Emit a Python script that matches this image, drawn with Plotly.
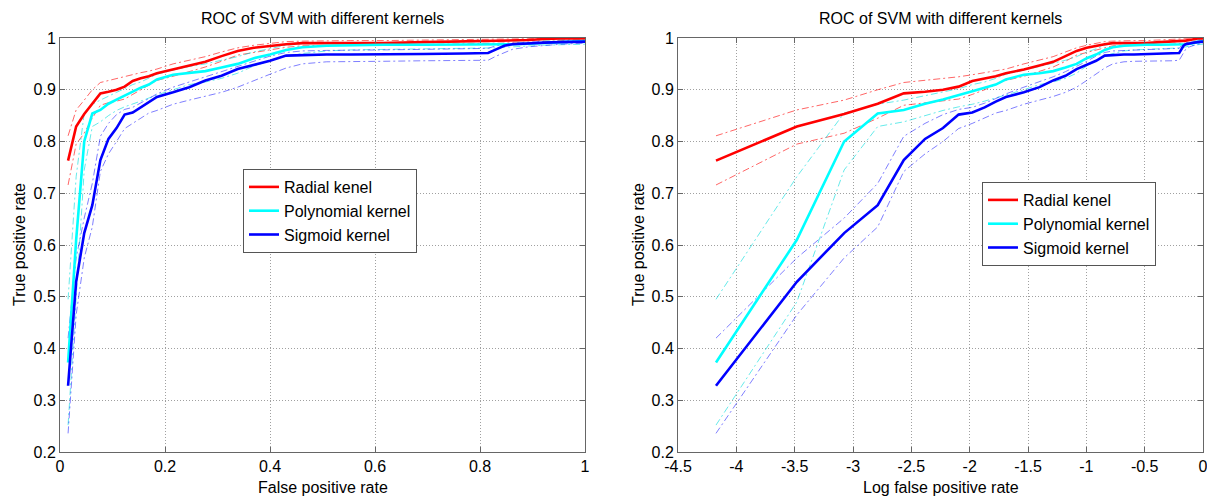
import numpy as np
import plotly.graph_objects as go

# ---- data ----
N_NEG = 65
fp_counts = [1, 2, 3, 4, 5, 6, 7, 8, 9, 10, 11, 12, 14, 16, 18, 20, 22, 24, 26, 28, 30,
             33, 36, 40, 45, 50, 53, 54, 55, 56, 58, 60, 62, 65]

radial_tpr = [0.763, 0.829, 0.853, 0.873, 0.893, 0.896, 0.900, 0.906, 0.917, 0.922, 0.926, 0.932,
              0.939, 0.947, 0.954, 0.965, 0.975, 0.981, 0.985, 0.988, 0.990, 0.990, 0.990, 0.990,
              0.992, 0.993, 0.994, 0.994, 0.995, 0.995, 0.996, 0.998, 0.999, 0.999]
radial_upper = [0.811, 0.861, 0.880, 0.900, 0.914, 0.918, 0.921, 0.925, 0.929, 0.933, 0.936, 0.940,
                0.950, 0.957, 0.964, 0.973, 0.981, 0.986, 0.990, 0.993, 0.994, 0.995, 0.995, 0.995,
                0.996, 0.997, 0.998, 0.998, 0.998, 0.998, 0.999, 1.0, 1.0, 1.0]
radial_lower = [0.716, 0.795, 0.816, 0.845, 0.870, 0.875, 0.878, 0.882, 0.891, 0.900, 0.910, 0.918,
                0.926, 0.935, 0.944, 0.955, 0.967, 0.972, 0.977, 0.982, 0.985, 0.986, 0.986, 0.986,
                0.987, 0.988, 0.990, 0.990, 0.990, 0.990, 0.991, 0.993, 0.995, 0.996]

poly_tpr = [0.373, 0.610, 0.800, 0.854, 0.861, 0.873, 0.881, 0.889, 0.897, 0.904, 0.910, 0.920,
            0.929, 0.932, 0.936, 0.943, 0.950, 0.961, 0.968, 0.977, 0.982, 0.985, 0.986, 0.987,
            0.987, 0.987, 0.987, 0.987, 0.988, 0.988, 0.989, 0.990, 0.992, 0.994]
poly_upper = [0.495, 0.732, 0.855, 0.872, 0.880, 0.888, 0.895, 0.902, 0.910, 0.915, 0.922, 0.930,
              0.938, 0.945, 0.950, 0.957, 0.964, 0.973, 0.979, 0.986, 0.989, 0.990, 0.991, 0.991,
              0.992, 0.992, 0.992, 0.993, 0.993, 0.994, 0.995, 0.996, 0.997, 0.998]
poly_lower = [0.252, 0.490, 0.745, 0.829, 0.838, 0.850, 0.860, 0.867, 0.872, 0.878, 0.884, 0.890,
              0.900, 0.910, 0.915, 0.922, 0.932, 0.946, 0.956, 0.965, 0.970, 0.975, 0.977, 0.978,
              0.979, 0.980, 0.980, 0.981, 0.982, 0.983, 0.985, 0.986, 0.987, 0.988]

sigmoid_tpr = [0.328, 0.529, 0.623, 0.677, 0.764, 0.805, 0.826, 0.852, 0.856, 0.866, 0.877, 0.886,
               0.895, 0.905, 0.918, 0.927, 0.940, 0.948, 0.956, 0.966, 0.967, 0.968, 0.968, 0.969,
               0.969, 0.970, 0.971, 0.978, 0.985, 0.988, 0.990, 0.991, 0.992, 0.993]
sigmoid_upper = [0.420, 0.575, 0.652, 0.719, 0.810, 0.835, 0.852, 0.862, 0.866, 0.874, 0.883, 0.892,
                 0.905, 0.915, 0.925, 0.935, 0.945, 0.955, 0.965, 0.972, 0.975, 0.976, 0.976, 0.977,
                 0.978, 0.979, 0.980, 0.985, 0.988, 0.990, 0.992, 0.993, 0.994, 0.995]
sigmoid_lower = [0.236, 0.465, 0.575, 0.635, 0.742, 0.776, 0.800, 0.825, 0.835, 0.845, 0.855, 0.860,
                 0.872, 0.880, 0.887, 0.895, 0.905, 0.918, 0.930, 0.942, 0.950, 0.954, 0.955, 0.955,
                 0.956, 0.956, 0.957, 0.965, 0.972, 0.978, 0.983, 0.986, 0.988, 0.990]

series_names = ["Radial kenel", "Polynomial kernel", "Sigmoid kernel"]
series_colors = ["#FF0000", "#00FFFF", "#0000FF"]
bound_colors = ["rgba(255,0,0,0.6)", "rgba(0,220,220,0.6)", "rgba(0,0,255,0.5)"]

left_xticks = [0, 0.2, 0.4, 0.6, 0.8, 1]
left_xticklabels = ["0", "0.2", "0.4", "0.6", "0.8", "1"]
right_xticks = [-4.5, -4, -3.5, -3, -2.5, -2, -1.5, -1, -0.5, 0]
right_xticklabels = ["-4.5", "-4", "-3.5", "-3", "-2.5", "-2", "-1.5", "-1", "-0.5", "0"]
yticks = [0.2, 0.3, 0.4, 0.5, 0.6, 0.7, 0.8, 0.9, 1]
yticklabels = ["0.2", "0.3", "0.4", "0.5", "0.6", "0.7", "0.8", "0.9", "1"]

title_text = "ROC of SVM with different kernels"

# ---- figure ----
# the page body has an 8px margin, so the figure is drawn 8px in and 8px smaller
OFF = 8
W, H = 1215 - OFF, 498 - OFF
FONT = "Liberation Sans, Arial, sans-serif"


def px(v):
    return v - OFF


fpr = np.array(fp_counts) / N_NEG
log_fpr = np.log(fpr)

groups = [
    (radial_tpr, radial_upper, radial_lower),
    (poly_tpr, poly_upper, poly_lower),
    (sigmoid_tpr, sigmoid_upper, sigmoid_lower),
]

fig = go.Figure()
DASH = "7px,3px,2px,3px"
for panel, (xs, xa, ya, leg) in enumerate([(fpr, "x", "y", "legend"),
                                           (log_fpr, "x2", "y2", "legend2")]):
    for i, (main, up, lo) in enumerate(groups):
        for b in (up, lo):
            fig.add_trace(go.Scatter(x=xs, y=b, mode="lines", xaxis=xa, yaxis=ya,
                                     line=dict(color=bound_colors[i], width=1, dash=DASH),
                                     showlegend=False, hoverinfo="skip"))
    for i, (main, up, lo) in enumerate(groups):
        fig.add_trace(go.Scatter(x=xs, y=main, mode="lines", xaxis=xa, yaxis=ya,
                                 name=series_names[i], legend=leg,
                                 line=dict(color=series_colors[i], width=2.6)))

L1, R1 = px(60), px(585)
L2, R2 = px(678), px(1203)
TOP, BOT = px(38), px(452)

axis_common = dict(showline=True, linecolor="#666666", linewidth=1, mirror="ticks",
                   ticks="inside", ticklen=5, tickcolor="#666666",
                   showgrid=True, gridcolor="#a0a0a0", griddash="1px,2px", gridwidth=1,
                   zeroline=False, automargin=False,
                   tickfont=dict(family=FONT, size=16, color="black"))

fig.update_layout(
    width=W, height=H, template="none",
    margin=dict(l=0, r=0, t=0, b=0),
    paper_bgcolor="white", plot_bgcolor="white",
    font=dict(family=FONT, size=16, color="black"),
    xaxis=dict(domain=[L1 / W, R1 / W], range=[0, 1], tickvals=left_xticks,
               ticktext=left_xticklabels, anchor="y", **axis_common),
    yaxis=dict(domain=[1 - BOT / H, 1 - TOP / H], range=[0.2, 1], tickvals=yticks,
               ticktext=yticklabels, anchor="x", **axis_common),
    xaxis2=dict(domain=[L2 / W, R2 / W], range=[-4.5, 0], tickvals=right_xticks,
                ticktext=right_xticklabels, anchor="y2", **axis_common),
    yaxis2=dict(domain=[1 - BOT / H, 1 - TOP / H], range=[0.2, 1], tickvals=yticks,
                ticktext=yticklabels, anchor="x2", **axis_common),
    legend=dict(x=px(243) / W, y=1 - px(169) / H, xanchor="left", yanchor="top",
                bgcolor="white", bordercolor="#555555", borderwidth=1,
                font=dict(family=FONT, size=16, color="black"), itemwidth=30,
                tracegroupgap=0),
    legend2=dict(x=px(982) / W, y=1 - px(182) / H, xanchor="left", yanchor="top",
                 bgcolor="white", bordercolor="#555555", borderwidth=1,
                 font=dict(family=FONT, size=16, color="black"), itemwidth=30,
                 tracegroupgap=0),
    showlegend=True,
)

ann = [
    dict(text=title_text, x=(L1 + R1) / 2 / W, y=1 - px(18) / H),
    dict(text=title_text, x=(L2 + R2) / 2 / W, y=1 - px(18) / H),
    dict(text="False positive rate", x=(L1 + R1) / 2 / W, y=1 - px(487) / H),
    dict(text="Log false positive rate", x=(L2 + R2) / 2 / W, y=1 - px(487) / H),
    dict(text="True positive rate", x=px(19) / W, y=1 - px(245) / H, textangle=-90),
    dict(text="True positive rate", x=px(638) / W, y=1 - px(245) / H, textangle=-90),
]
for a in ann:
    fig.add_annotation(xref="paper", yref="paper", xanchor="center", yanchor="middle",
                       showarrow=False, font=dict(family=FONT, size=16, color="black"), **a)

fig.write_html("out.html")
